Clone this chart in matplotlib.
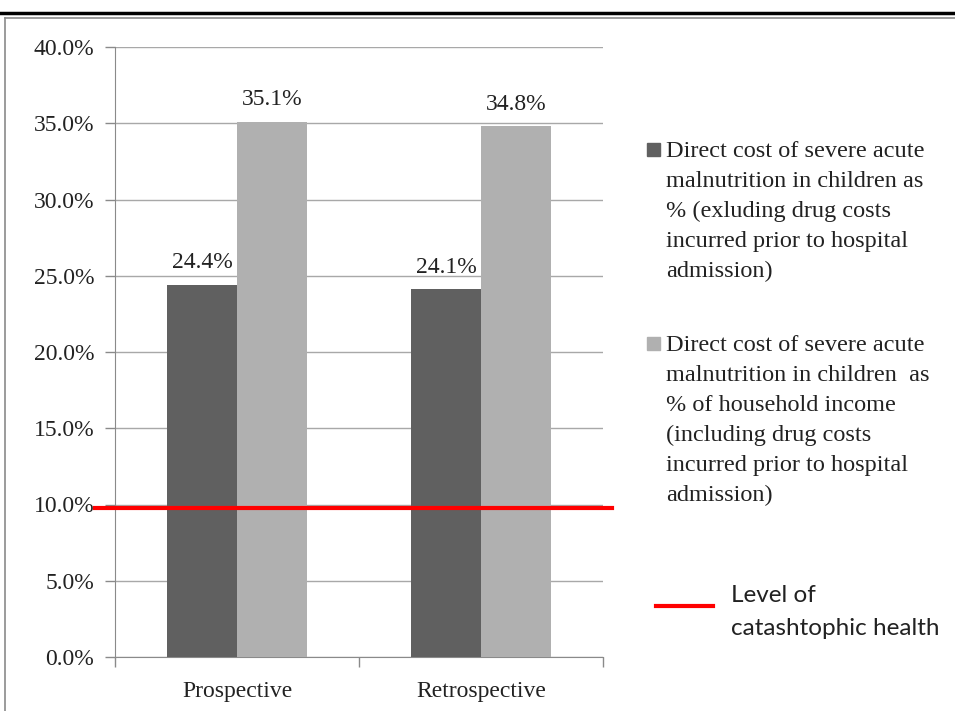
import matplotlib
matplotlib.use("Agg")
import matplotlib.pyplot as plt
from matplotlib.patches import Rectangle
from matplotlib.lines import Line2D
import numpy as np

categories = ["Prospective", "Retrospective"]
excl_drug = [24.4, 24.1]
incl_drug = [35.1, 34.8]
catastrophic_level = 9.8
yticks = [0, 5, 10, 15, 20, 25, 30, 35, 40]

legend1 = ["Direct cost of severe acute", "malnutrition in children as", "% (exluding drug costs",
           "incurred prior to hospital", "admission)"]
legend2 = ["Direct cost of severe acute", "malnutrition in children  as", "% of household income",
           "(including drug costs", "incurred prior to hospital", "admission)"]
legend3 = ["Level of", "catashtophic health"]

W, H = 955, 711
fig = plt.figure(figsize=(W/100, H/100), dpi=100)
serif = ["Liberation Serif", "DejaVu Serif"]
tcol = "#222222"

def fx(px): return px / W
def fy(py): return 1 - py / H

# frame lines
fig.add_artist(Line2D([0, 1], [fy(13), fy(13)], color="black", lw=2.5, transform=fig.transFigure))
fig.add_artist(Line2D([fx(5), 1], [fy(18), fy(18)], color="#8a8a8a", lw=1.2, transform=fig.transFigure))
fig.add_artist(Line2D([fx(5), fx(5)], [fy(18), 0], color="#8a8a8a", lw=1.2, transform=fig.transFigure))

ax = fig.add_axes([fx(115), fy(657), fx(603) - fx(115), fy(47) - fy(657)])
x = np.arange(len(categories))
w = 0.287
c_dark = "#606060"
c_light = "#b0b0b0"
b1 = ax.bar(x - w/2, excl_drug, w, color=c_dark, zorder=3)
b2 = ax.bar(x + w/2, incl_drug, w, color=c_light, zorder=3)
for rect, v in list(zip(b1, excl_drug)) + list(zip(b2, incl_drug)):
    ax.text(rect.get_x() + rect.get_width()/2, v + 0.75, f"{v:.1f}%", ha="center", va="bottom",
            fontsize=17, family=serif, color=tcol)

ax.set_xlim(-0.5, 1.5)
ax.set_ylim(0, 40)
ax.set_yticks(yticks)
ax.set_yticklabels([f"{t:.1f}%" for t in yticks], fontsize=17, family=serif, color=tcol)
ax.set_xticks(x)
ax.set_xticklabels(categories, fontsize=17, family=serif, color=tcol)
ax.tick_params(axis="x", length=0, pad=17)
ax.set_xticks([-0.5, 0.5, 1.5], minor=True)
ax.tick_params(axis="x", which="minor", length=7, color="#8a8a8a", width=1)
ax.tick_params(axis="y", length=7, color="#8a8a8a", width=1, pad=8)
ax.grid(axis="y", color="#a8a8a8", lw=1, zorder=0)
for s in ["top", "right"]:
    ax.spines[s].set_visible(False)
ax.spines["left"].set_color("#8a8a8a")
ax.spines["bottom"].set_color("#8a8a8a")

# catastrophic health line (extends past axes)
ax.plot([-0.5 - 20/244, 1.5 + 9/244], [catastrophic_level, catastrophic_level], color="#ff0000",
        lw=3, clip_on=False, zorder=5)

# legend
def legend_block(lines, base_y, step, family, size, x0):
    for i, line in enumerate(lines):
        fig.text(fx(x0), fy(base_y + step * i), line, fontsize=size, family=family,
                 va="baseline", ha="left", color=tcol)

fig.add_artist(Rectangle((fx(647), fy(156)), fx(13), 13/H, color=c_dark, transform=fig.transFigure))
legend_block(legend1, 157, 30, serif, 17.5, 666)
fig.add_artist(Rectangle((fx(647), fy(350)), fx(13), 13/H, color=c_light, transform=fig.transFigure))
legend_block(legend2, 351, 30, serif, 17.5, 666)
fig.add_artist(Line2D([fx(656), fx(713)], [fy(606), fy(606)], color="#ff0000", lw=3,
                      transform=fig.transFigure))
legend_block(legend3, 602, 33, ["Lato", "DejaVu Sans"], 17.5, 731)

fig.savefig("out.png", dpi=100)
